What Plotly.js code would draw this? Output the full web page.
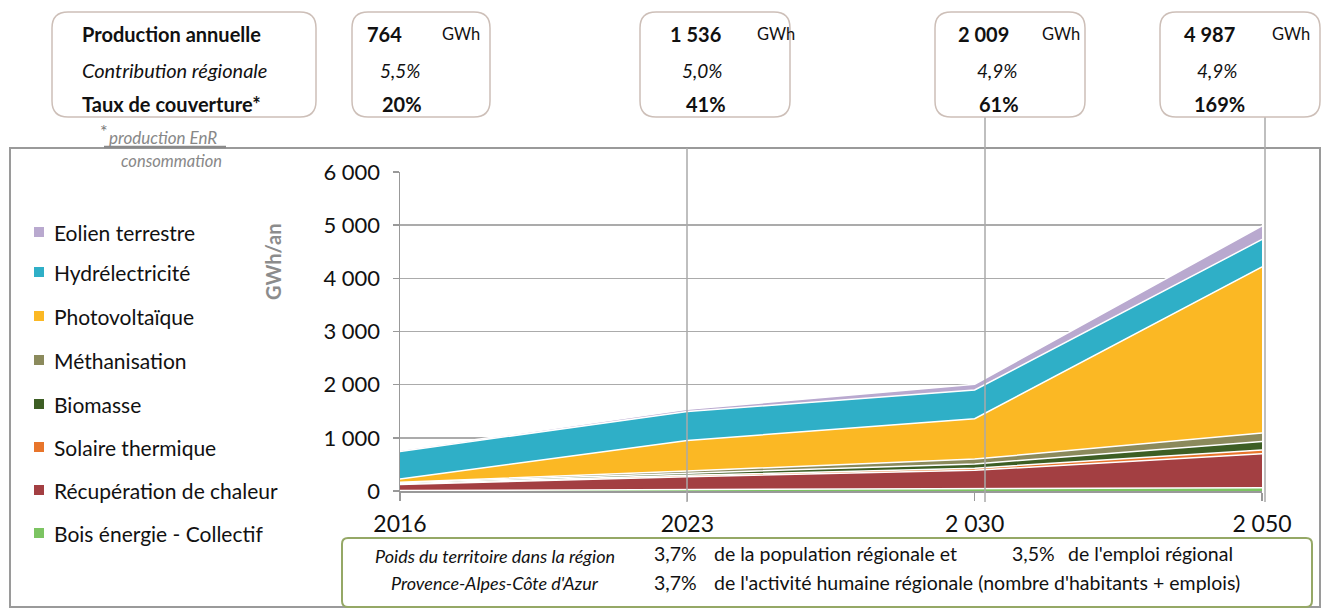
<!DOCTYPE html>
<html>
<head>
<meta charset="utf-8">
<script src="https://cdn.plot.ly/plotly-3.0.1.min.js"></script>
<style>html,body{margin:0;padding:0;background:#fff;}#chart{width:1331px;height:614px;}</style>
</head>
<body>
<div id="chart"></div>
<script>
// ---- Data ----
const categories = ['2016', '2023', '2 030', '2 050'];
const seriesNames = ['Bois énergie - Collectif', 'Récupération de chaleur', 'Solaire thermique', 'Biomasse', 'Méthanisation', 'Photovoltaïque', 'Hydrélectricité', 'Eolien terrestre'];
const seriesColors = ['#7cc462', '#a33f42', '#e8752b', '#3d5e24', '#8b8a5c', '#fbb824', '#2fafc7', '#b9a9cf'];
const boisEnergie = [10, 30, 40, 60];
const recuperation = [110, 240, 350, 640];
const solaireThermique = [15, 25, 40, 70];
const biomasse = [20, 40, 80, 160];
const methanisation = [10, 40, 90, 160];
const photovoltaique = [60, 575, 760, 3126];
const hydroelectricite = [520, 546, 540, 515];
const eolien = [19, 40, 109, 256];
const seriesValues = [boisEnergie, recuperation, solaireThermique, biomasse, methanisation, photovoltaique, hydroelectricite, eolien];

const production = ['764', '1 536', '2 009', '4 987'];
const contribution = ['5,5%', '5,0%', '4,9%', '4,9%'];
const couverture = ['20%', '41%', '61%', '169%'];

// ---- Geometry helpers (pixel -> paper) ----
const L = 400, R = 1262, T = 172, B = 491;
const px = x => (x - L) / (R - L);
const py = y => (B - y) / (B - T);
const FONT = 'Lato, "Open Sans", sans-serif';

const xIdx = categories.map((c, i) => i);
const traces = seriesNames.map((n, i) => ({
  x: xIdx, y: seriesValues[i], name: n, type: 'scatter', mode: 'lines',
  stackgroup: 'one', fill: 'tonexty', fillcolor: seriesColors[i],
  line: {color: '#ffffff', width: 1.5}, showlegend: false, hoverinfo: 'skip'
}));

const annotations = [];
const shapes = [];
function ann(text, x, y, o) {
  o = o || {};
  annotations.push(Object.assign({
    text: text, x: px(x), y: py(y), xref: 'paper', yref: 'paper',
    xanchor: 'left', yanchor: 'middle', showarrow: false,
    font: {family: FONT, size: 20, color: '#111'}
  }, o));
}
function roundRect(x0, y0, x1, y1, r, color, width) {
  const P = (x, y) => px(x) + ',' + py(y);
  const path = 'M' + P(x0 + r, y0) + ' L' + P(x1 - r, y0) + ' Q' + P(x1, y0) + ' ' + P(x1, y0 + r) +
    ' L' + P(x1, y1 - r) + ' Q' + P(x1, y1) + ' ' + P(x1 - r, y1) +
    ' L' + P(x0 + r, y1) + ' Q' + P(x0, y1) + ' ' + P(x0, y1 - r) +
    ' L' + P(x0, y0 + r) + ' Q' + P(x0, y0) + ' ' + P(x0 + r, y0) + ' Z';
  shapes.push({type: 'path', path: path, xref: 'paper', yref: 'paper',
    line: {color: color, width: width}, fillcolor: 'rgba(255,255,255,0)', layer: 'above'});
}
function line(x0, y0, x1, y1, color, width, layer) {
  shapes.push({type: 'line', xref: 'paper', yref: 'paper', x0: px(x0), y0: py(y0), x1: px(x1), y1: py(y1),
    line: {color: color, width: width}, layer: layer || 'above'});
}

// Outer frame
shapes.push({type: 'rect', xref: 'paper', yref: 'paper', x0: px(10), x1: px(1320), y0: py(148), y1: py(607),
  line: {color: '#9a9a9a', width: 2}, layer: 'below'});

// Connector lines
line(687, 148, 687, 502, '#aaaaaa', 1.5);
line(985, 117, 985, 502, '#aaaaaa', 1.5);
line(1265, 117, 1265, 502, '#aaaaaa', 1.5);

// Top boxes
const boxColor = '#cdbfb8';
roundRect(52, 12, 316, 117, 16, boxColor, 1.5);
ann('<b>Production annuelle</b>', 80, 34);
ann('<i>Contribution régionale</i>', 80, 70);
ann('<b>Taux de couverture*</b>', 80, 104);

const boxes = [
  {x0: 352, x1: 490, num: 365, gwh: 440, pct: 378, cov: 380},
  {x0: 640, x1: 790, num: 668, gwh: 755, pct: 680, cov: 684},
  {x0: 935, x1: 1085, num: 956, gwh: 1040, pct: 975, cov: 977},
  {x0: 1160, x1: 1320, num: 1182, gwh: 1270, pct: 1195, cov: 1192}
];
boxes.forEach((b, i) => {
  roundRect(b.x0, 12, b.x1, 117, 16, boxColor, 1.5);
  ann('<b>' + production[i] + '</b>', b.num, 34);
  ann('GWh', b.gwh, 34, {font: {family: FONT, size: 16.5, color: '#111'}});
  ann('<i>' + contribution[i] + '</i>', b.pct, 70, {font: {family: FONT, size: 19, color: '#111'}});
  ann('<b>' + couverture[i] + '</b>', b.cov, 104);
});

// Footnote
ann('*', 98, 131, {font: {family: FONT, size: 18, color: '#777'}});
ann('<i>production EnR</i>', 107, 137, {font: {family: FONT, size: 17, color: '#888'}});
line(104, 147, 226, 147, '#8a8a8a', 2.5);
ann('<i>consommation</i>', 119, 161, {font: {family: FONT, size: 16.5, color: '#888'}});

// Legend (top = last series)
const legendY = [232, 272, 316, 360, 404, 447, 490, 533];
for (let k = 0; k < seriesNames.length; k++) {
  const i = seriesNames.length - 1 - k;
  const y = legendY[k];
  shapes.push({type: 'rect', xref: 'paper', yref: 'paper', x0: px(34), x1: px(44), y0: py(y + 5), y1: py(y - 5),
    fillcolor: seriesColors[i], line: {width: 0}, layer: 'above'});
  ann(seriesNames[i], 52, y, {font: {family: FONT, size: 21, color: '#111'}});
}

// Y axis title
ann('<b>GWh/an</b>', 273, 262, {xanchor: 'center', textangle: -90, font: {family: FONT, size: 20, color: '#8c8c8c'}});

// Bottom box
roundRect(342, 538, 1312, 607, 6, '#95a866', 2);
const it = {family: FONT, size: 18, color: '#111'};
ann('<i>Poids du territoire dans la région</i>', 495, 556, {xanchor: 'center', font: it});
ann('<i>Provence-Alpes-Côte d\'Azur</i>', 495, 583, {xanchor: 'center', font: it});
const bt = {family: FONT, size: 19.5, color: '#111'};
ann('3,7%', 652, 553, {font: bt});
ann('de la population régionale et', 712, 553, {font: bt});
ann('3,5%', 1010, 553, {font: bt});
ann('de l\'emploi régional', 1066, 553, {font: bt});
ann('3,7%', 652, 582, {font: bt});
ann('de l\'activité humaine régionale (nombre d\'habitants + emplois)', 712, 582, {font: bt});

const layout = {
  width: 1331, height: 614,
  margin: {l: L, r: 1331 - R, t: T, b: 614 - B, pad: 0},
  paper_bgcolor: '#ffffff', plot_bgcolor: '#ffffff',
  separators: ', ',
  showlegend: false,
  font: {family: FONT, color: '#111'},
  xaxis: {
    range: [0, 3], tickvals: xIdx, ticktext: categories, ticks: 'outside', ticklen: 8,
    tickcolor: '#999', tickwidth: 1.5, showline: true, linecolor: '#999', linewidth: 1.5,
    showgrid: false, zeroline: false, tickfont: {family: FONT, size: 23, color: '#111'},
    ticklabelstandoff: 4, fixedrange: true
  },
  yaxis: {
    range: [0, 6000], dtick: 1000, tick0: 0, tickformat: ',d', separatethousands: true,
    ticks: 'outside', ticklen: 6, tickcolor: '#999', tickwidth: 1.5,
    showline: true, linecolor: '#999', linewidth: 1.5,
    showgrid: true, gridcolor: '#ababab', gridwidth: 1.5, zeroline: false,
    tickfont: {family: FONT, size: 22, color: '#111'}, ticklabelstandoff: 8, fixedrange: true
  },
  shapes: shapes,
  annotations: annotations
};

Plotly.newPlot('chart', traces, layout, {staticPlot: true, displayModeBar: false});
</script>
</body>
</html>
